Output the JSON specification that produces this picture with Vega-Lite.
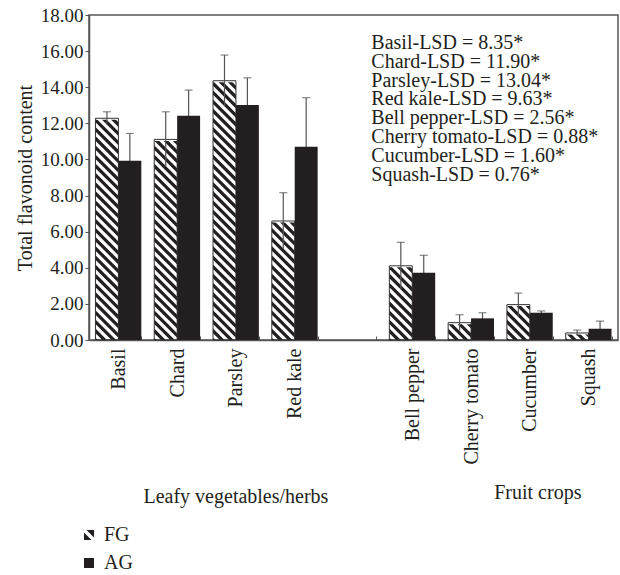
{
  "$schema": "https://vega.github.io/schema/vega-lite/v6.json",
  "width": 529,
  "height": 325,
  "autosize": {"type": "none"},
  "padding": {"left": 89, "top": 15, "right": 2, "bottom": 235},
  "background": "white",
  "config": {
    "font": "Liberation Serif",
    "view": {"stroke": "#555555", "strokeWidth": 1.5},
    "axis": {"grid": false, "domainColor": "#555555", "domainWidth": 1.5, "tickColor": "#555555", "labelColor": "#231f20", "titleColor": "#231f20", "labelOverlap": false},
    "axisY": {"titleFontSize": 20, "titleFontWeight": "normal", "titlePadding": 5, "labelFontSize": 19, "labelPadding": 2, "tickSize": 4, "format": ".2f", "tickCount": 20}
  },
  "data": {
    "values": [
      {"cat": "Basil", "group": "FG", "value": 12.28, "lo": 11.92, "hi": 12.64},
      {"cat": "Basil", "group": "AG", "value": 9.93, "lo": 8.42, "hi": 11.44},
      {"cat": "Chard", "group": "FG", "value": 11.11, "lo": 9.58, "hi": 12.64},
      {"cat": "Chard", "group": "AG", "value": 12.42, "lo": 11.0, "hi": 13.84},
      {"cat": "Parsley", "group": "FG", "value": 14.36, "lo": 12.94, "hi": 15.78},
      {"cat": "Parsley", "group": "AG", "value": 13.01, "lo": 11.5, "hi": 14.52},
      {"cat": "Red kale", "group": "FG", "value": 6.59, "lo": 5.02, "hi": 8.16},
      {"cat": "Red kale", "group": "AG", "value": 10.7, "lo": 7.98, "hi": 13.42},
      {"cat": "Bell pepper", "group": "FG", "value": 4.11, "lo": 2.81, "hi": 5.41},
      {"cat": "Bell pepper", "group": "AG", "value": 3.73, "lo": 2.77, "hi": 4.69},
      {"cat": "Cherry tomato", "group": "FG", "value": 0.96, "lo": 0.52, "hi": 1.4},
      {"cat": "Cherry tomato", "group": "AG", "value": 1.2, "lo": 0.89, "hi": 1.51},
      {"cat": "Cucumber", "group": "FG", "value": 1.96, "lo": 1.32, "hi": 2.6},
      {"cat": "Cucumber", "group": "AG", "value": 1.51, "lo": 1.41, "hi": 1.61},
      {"cat": "Squash", "group": "FG", "value": 0.39, "lo": 0.23, "hi": 0.55},
      {"cat": "Squash", "group": "AG", "value": 0.63, "lo": 0.21, "hi": 1.05}
    ]
  },
  "layer": [
    {
      "mark": {"type": "point", "filled": true, "color": "#231f20", "opacity": 0},
      "encoding": {
        "x": {
          "field": "cat", "type": "nominal",
          "scale": {"domain": ["Basil", "Chard", "Parsley", "Red kale", "gap", "Bell pepper", "Cherry tomato", "Cucumber", "Squash"], "paddingInner": 0.22, "paddingOuter": 0.11},
          "axis": {"title": null, "labelAngle": -90, "labelFontSize": 20, "labelPadding": 12, "tickBand": "extent", "tickSize": -4, "labelOverlap": false, "labelExpr": "datum.value === 'gap' ? '' : datum.value"}
        },
        "xOffset": {"field": "group", "type": "nominal", "scale": {"domain": ["FG", "AG"], "paddingInner": 0, "paddingOuter": 0}},
        "y": {
          "field": "value", "type": "quantitative",
          "scale": {"domain": [0, 18], "nice": false, "zero": true},
          "axis": {"title": "Total flavonoid content", "values": [0, 2, 4, 6, 8, 10, 12, 14, 16, 18], "tickCount": 20, "labelOverlap": false}
        },
        "shape": {
          "field": "group", "type": "nominal",
          "scale": {"domain": ["FG", "AG"], "range": ["M-1 -0.5L-1 1L0.5 1Z M-0.5 -1L1 -1L1 0.5Z", "square"]},
          "legend": {"title": null, "orient": "none", "legendX": -10, "legendY": 510, "symbolSize": 100, "symbolOpacity": 1, "symbolFillColor": "#231f20", "symbolStrokeWidth": 0, "labelFontSize": 20, "labelFont": "Liberation Serif", "labelColor": "#231f20", "labelOffset": 5, "rowPadding": 8, "padding": 0}
        }
      }
    },
    {
      "transform": [{"filter": "datum.group === 'FG'"}],
      "mark": {
        "type": "point", "filled": true, "color": "#231f20", "opacity": 1, "strokeWidth": 0, "size": 525,
        "shape": "M0.6 -23L1 -23L1 -22.6Z M-0.2 -23L0.2 -23L1 -22.2L1 -21.8Z M-1 -23L-0.6 -23L1 -21.4L1 -21Z M-1 -22.6L1 -20.6L1 -20.2L-1 -22.2Z M-1 -21.8L1 -19.8L1 -19.4L-1 -21.4Z M-1 -21L1 -19L1 -18.6L-1 -20.6Z M-1 -20.2L1 -18.2L1 -17.8L-1 -19.8Z M-1 -19.4L1 -17.4L1 -17L-1 -19Z M-1 -18.6L1 -16.6L1 -16.2L-1 -18.2Z M-1 -17.8L1 -15.8L1 -15.4L-1 -17.4Z M-1 -17L1 -15L1 -14.6L-1 -16.6Z M-1 -16.2L1 -14.2L1 -13.8L-1 -15.8Z M-1 -15.4L1 -13.4L1 -13L-1 -15Z M-1 -14.6L1 -12.6L1 -12.2L-1 -14.2Z M-1 -13.8L1 -11.8L1 -11.4L-1 -13.4Z M-1 -13L1 -11L1 -10.6L-1 -12.6Z M-1 -12.2L1 -10.2L1 -9.8L-1 -11.8Z M-1 -11.4L1 -9.4L1 -9L-1 -11Z M-1 -10.6L1 -8.6L1 -8.2L-1 -10.2Z M-1 -9.8L1 -7.8L1 -7.4L-1 -9.4Z M-1 -9L1 -7L1 -6.6L-1 -8.6Z M-1 -8.2L1 -6.2L1 -5.8L-1 -7.8Z M-1 -7.4L1 -5.4L1 -5L-1 -7Z M-1 -6.6L1 -4.6L1 -4.2L-1 -6.2Z M-1 -5.8L1 -3.8L1 -3.4L-1 -5.4Z M-1 -5L1 -3L1 -2.6L-1 -4.6Z M-1 -4.2L1 -2.2L1 -1.8L-1 -3.8Z M-1 -3.4L1 -1.4L1 -1L-1 -3Z M-1 -2.6L1 -0.6L1 -0.2L-1 -2.2Z M-1 -1.8L0.8 0L0.4 0L-1 -1.4Z M-1 -1L0 0L-0.4 0L-1 -0.6Z M-1 -0.2L-0.8 0L-1 0Z"
      },
      "encoding": {
        "x": {"field": "cat", "type": "nominal"},
        "xOffset": {"field": "group", "type": "nominal"},
        "y": {"datum": 0, "type": "quantitative"}
      }
    },
    {
      "transform": [{"filter": "datum.group === 'FG'"}],
      "mark": {"type": "bar", "color": "white", "stroke": "white", "strokeWidth": 3},
      "encoding": {
        "x": {"field": "cat", "type": "nominal"},
        "xOffset": {"field": "group", "type": "nominal"},
        "y": {"field": "value", "type": "quantitative"},
        "y2": {"datum": 14.9}
      }
    },
    {
      "transform": [{"filter": "datum.group === 'FG'"}],
      "mark": {"type": "bar", "fill": "transparent", "stroke": "#333333", "strokeWidth": 1},
      "encoding": {
        "x": {"field": "cat", "type": "nominal"},
        "xOffset": {"field": "group", "type": "nominal"},
        "y": {"field": "value", "type": "quantitative"}
      }
    },
    {
      "mark": {"type": "rule", "color": "#555555", "strokeWidth": 1.2},
      "encoding": {
        "x": {"field": "cat", "type": "nominal"},
        "xOffset": {"field": "group", "type": "nominal"},
        "y": {"field": "lo", "type": "quantitative"},
        "y2": {"field": "hi"}
      }
    },
    {
      "mark": {"type": "tick", "color": "#555555", "size": 8, "thickness": 1.2},
      "encoding": {
        "x": {"field": "cat", "type": "nominal"},
        "xOffset": {"field": "group", "type": "nominal"},
        "y": {"field": "hi", "type": "quantitative"}
      }
    },
    {
      "transform": [{"filter": "datum.group === 'AG'"}],
      "mark": {"type": "bar", "color": "#231f20"},
      "encoding": {
        "x": {"field": "cat", "type": "nominal"},
        "xOffset": {"field": "group", "type": "nominal"},
        "y": {"field": "value", "type": "quantitative"}
      }
    },
    {
      "data": {"values": [{"note": "Basil-LSD = 8.35*\nChard-LSD = 11.90*\nParsley-LSD = 13.04*\nRed kale-LSD = 9.63*\nBell pepper-LSD = 2.56*\nCherry tomato-LSD = 0.88*\nCucumber-LSD = 1.60*\nSquash-LSD  = 0.76*"}]},
      "mark": {"type": "text", "align": "left", "baseline": "top", "fontSize": 20, "lineHeight": 18.8, "lineBreak": "\n", "dx": -18, "color": "#231f20"},
      "encoding": {
        "text": {"field": "note"},
        "x": {"datum": "Bell pepper", "type": "nominal", "bandPosition": 0},
        "y": {"datum": 17.0, "type": "quantitative"}
      }
    },
    {
      "data": {"values": [{"label": "Leafy vegetables/herbs", "at": "Parsley"}]},
      "mark": {"type": "text", "fontSize": 20, "baseline": "middle", "color": "#231f20"},
      "encoding": {
        "text": {"field": "label"},
        "x": {"field": "at", "type": "nominal"},
        "y": {"datum": -8.68, "type": "quantitative"}
      }
    },
    {
      "data": {"values": [{"label": "Fruit crops", "at": "Cucumber"}]},
      "mark": {"type": "text", "fontSize": 20, "baseline": "middle", "dx": 8, "color": "#231f20"},
      "encoding": {
        "text": {"field": "label"},
        "x": {"field": "at", "type": "nominal"},
        "y": {"datum": -8.5, "type": "quantitative"}
      }
    }
  ]
}
